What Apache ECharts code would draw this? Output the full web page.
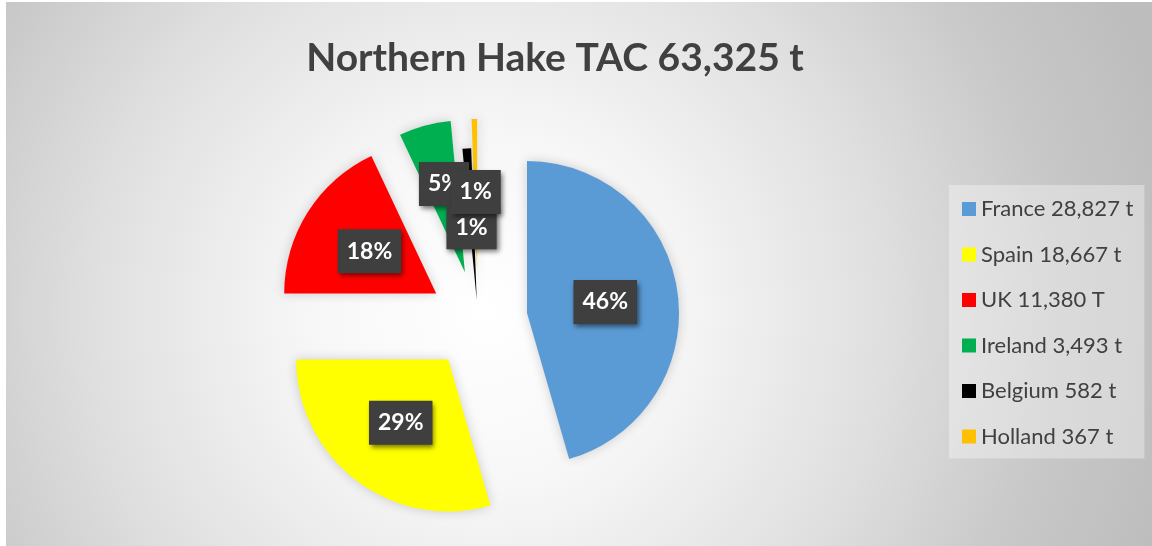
<!DOCTYPE html>
<html>
<head>
<meta charset="utf-8">
<title>Northern Hake TAC</title>
<script src="https://cdn.jsdelivr.net/npm/echarts@6/dist/echarts.min.js"></script>
<style>
    html, body { margin: 0; padding: 0; background: #fff; }
    #main { position: absolute; left: 6px; top: 2px; width: 1146px; height: 544px; }
</style>
</head>
<body>
<div id="main"></div>
<script>
// 数据
var countries = ['France', 'Spain', 'UK', 'Ireland', 'Belgium', 'Holland'];
var tonnes = [28827, 18667, 11380, 3493, 582, 367];
var legendNames = ['France 28,827 t', 'Spain 18,667 t', 'UK 11,380 T', 'Ireland 3,493 t', 'Belgium 582 t', 'Holland 367 t'];
var percentLabels = ['46%', '29%', '18%', '5%', '1%', '1%'];
var colors = ['#5b9bd5', '#ffff00', '#ff0000', '#00b050', '#000000', '#ffc000'];

// 每块扇形的分离距离 (Belgium 拉出得少一些)
var explode = [49.5, 49.5, 49.5, 49.5, 20, 49];
// 标签上下微调
var labelNudge = [0, 0, 0, -12, 6, 0];

var myChart = echarts.init(document.getElementById('main'));

// 每个国家一个系列, 只显示自己那一块, 这样每块可以有自己的分离距离
function buildData(k) {
    var data = [];
    for (var i = 0; i < countries.length; i++) {
        var visible = i === k;
        data.push({
            name: legendNames[i],
            value: tonnes[i],
            selected: true,
            itemStyle: visible ? {
                color: colors[i],
                shadowBlur: 12,
                shadowColor: 'rgba(0,0,0,0.18)'
            } : { color: 'rgba(0,0,0,0)' },
            label: { show: visible }
        });
    }
    return data;
}

var labelStyle = {
    show: true,
    position: 'inside',
    formatter: function (p) { return percentLabels[p.dataIndex]; },
    color: '#fff',
    fontFamily: 'Lato',
    fontWeight: 'bold',
    fontSize: 23,
    backgroundColor: '#3f3f3f',
    padding: [11, 9, 10, 9],
    shadowBlur: 5,
    shadowColor: 'rgba(0,0,0,0.55)',
    shadowOffsetX: 2,
    shadowOffsetY: 3
};

var legendData = [];
for (var i = 0; i < legendNames.length; i++) {
    legendData.push({ name: legendNames[i], itemStyle: { color: colors[i] } });
}

var series = [];
for (var k = 0; k < countries.length; k++) {
    series.push({
        name: countries[k],
        type: 'pie',
        center: [472, 318],
        radius: [0, 152],
        startAngle: 90,
        selectedMode: 'multiple',
        selectedOffset: explode[k],
        avoidLabelOverlap: false,
        labelLayout: { hideOverlap: false, dy: labelNudge[k] },
        emphasis: { disabled: true },
        label: labelStyle,
        labelLine: { show: false },
        data: buildData(k)
    });
}

var option = {
    animation: false,
    backgroundColor: new echarts.graphic.RadialGradient(0.42, 0.57, 1.3, [
        { offset: 0, color: '#ffffff' },
        { offset: 0.25, color: '#f7f7f7' },
        { offset: 0.55, color: '#e0e0e0' },
        { offset: 0.8, color: '#c8c8c8' },
        { offset: 1, color: '#bdbdbd' }
    ]),
    title: {
        text: 'Northern Hake TAC 63,325 t',
        left: 544,
        top: 32,
        textAlign: 'center',
        textStyle: {
            fontFamily: 'Lato',
            fontWeight: 'bold',
            fontSize: 39,
            color: '#404040'
        }
    },
    legend: {
        orient: 'vertical',
        left: 943,
        top: 183,
        padding: [13, 11, 11, 13],
        backgroundColor: 'rgba(255,255,255,0.35)',
        itemWidth: 14,
        itemHeight: 14,
        itemGap: 23.5,
        icon: 'rect',
        data: legendData,
        textStyle: {
            fontFamily: 'Lato',
            fontSize: 22,
            lineHeight: 20,
            color: '#404040'
        }
    },
    series: series
};

myChart.setOption(option);
</script>
</body>
</html>
